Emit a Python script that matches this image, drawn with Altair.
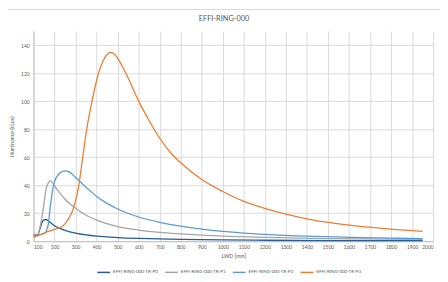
import altair as alt
import pandas as pd

names = ["EFFI-RING-000-TR-P0", "EFFI-RING-000-TR-P1", "EFFI-RING-000-TR-P2", "EFFI-RING-000-TR-P3"]
colors = ["#255E91", "#A5A5A5", "#5B9BD5", "#ED7D31"]

x0 = [100, 110, 120, 128, 135, 142, 150, 158, 170, 185, 200, 225, 250, 300, 350, 400, 500, 600, 700, 800, 1000, 1200, 1500, 1950]
y0 = [4.5, 4.0, 4.5, 7.5, 11.0, 14.0, 15.3, 15.5, 14.6, 12.8, 11.0, 9.2, 7.8, 5.8, 4.5, 3.6, 2.6, 2.0, 1.6, 1.3, 0.9, 0.7, 0.5, 0.35]

x1 = [100, 110, 120, 125, 130, 140, 150, 160, 170, 180, 190, 200, 225, 250, 300, 350, 400, 500, 600, 700, 800, 900, 1000, 1200, 1500, 1950]
y1 = [5.0, 4.8, 5.0, 6.5, 9.5, 17.0, 27.0, 37.5, 41.5, 43.0, 42.0, 39.5, 34.5, 30.0, 23.5, 18.5, 15.0, 10.5, 8.0, 6.3, 5.2, 4.3, 3.6, 2.7, 1.9, 1.3]

x2 = [100, 125, 150, 160, 170, 180, 190, 200, 215, 235, 252, 265, 280, 300, 350, 400, 450, 500, 600, 700, 800, 900, 1000, 1100, 1200, 1400, 1600, 1800, 1950]
y2 = [3.8, 4.5, 5.5, 7.0, 12.0, 25.0, 36.0, 42.5, 47.0, 49.6, 50.2, 49.8, 48.3, 45.5, 38.5, 32.0, 27.0, 23.0, 17.3, 13.5, 10.7, 8.6, 7.0, 5.8, 4.9, 3.6, 2.8, 2.2, 1.9]

x3 = [100, 125, 150, 175, 200, 225, 240, 255, 270, 285, 300, 315, 333, 353, 370, 390, 408, 430, 450, 468, 485, 500, 525, 550, 575, 600, 650, 700, 750, 800, 900, 1000, 1100, 1200, 1300, 1400, 1500, 1600, 1700, 1800, 1900, 1950]
y3 = [2.8, 4.2, 5.8, 7.2, 8.5, 9.6, 11.0, 13.5, 17.0, 21.5, 29.0, 39.5, 59.0, 80.0, 94.0, 108.5, 119.5, 128.5, 133.3, 134.8, 133.5, 130.5, 124.0, 116.5, 108.0, 100.0, 86.0, 73.5, 63.5, 56.0, 44.0, 35.5, 28.5, 23.5, 19.3, 16.0, 13.4, 11.5, 10.0, 8.6, 7.6, 7.1]

x_ticks = list(range(100, 2001, 100))
y_ticks = list(range(0, 141, 20))

rows = []
for n, xs, ys in zip(names, [x0, x1, x2, x3], [y0, y1, y2, y3]):
    for a, b in zip(xs, ys):
        rows.append({"series": n, "lwd": a, "lux": b})
df = pd.DataFrame(rows)

FONT = "Lato"
GRAY = "#595959"

border = alt.Chart(pd.DataFrame({"a": [0]})).mark_rect(
    fill=None, stroke="#d9d9d9", strokeWidth=1
).encode(x=alt.value(-29), x2=alt.value(430), y=alt.value(-22), y2=alt.value(270))

title = alt.Chart(pd.DataFrame({"t": ["EFFI-RING-000"]})).mark_text(
    font=FONT, fontSize=7.5, color=GRAY, align="center", baseline="middle"
).encode(text="t:N", x=alt.value(194), y=alt.value(-12))

lines = alt.Chart(df).mark_line(interpolate="monotone", strokeWidth=1.3).encode(
    x=alt.X("lwd:Q", scale=alt.Scale(domain=[100, 2000], nice=False, zero=False),
            axis=alt.Axis(values=x_ticks, format="d", title="LWD [mm]", grid=True, ticks=False,
                          labelPadding=3.5, titlePadding=4)),
    y=alt.Y("lux:Q", scale=alt.Scale(domain=[0, 150], nice=False),
            axis=alt.Axis(values=y_ticks, format="d", title="Illuminance (kLux)", grid=True, ticks=False,
                          labelPadding=4.5, titlePadding=6)),
    color=alt.Color("series:N", scale=alt.Scale(domain=names, range=colors),
                    legend=alt.Legend(orient="none", legendX=64, legendY=238, direction="horizontal",
                                      columns=4, title=None, symbolType="stroke",
                                      symbolSize=169, symbolStrokeWidth=1.5, labelFontSize=4.6,
                                      labelFont=FONT, labelColor=GRAY, labelOffset=2,
                                      columnPadding=4, padding=0)),
    detail="series:N",
)

chart = alt.layer(border, title, lines).properties(
    width=407, height=214,
    autosize=alt.AutoSizeParams(type="none"),
    padding={"left": 26, "top": 21, "right": 7, "bottom": 39},
).configure(background="white").configure_axis(
    gridColor="#d9d9d9", gridWidth=1, domainColor="#bfbfbf", domainWidth=1,
    labelFont=FONT, labelFontSize=5, labelColor=GRAY,
    titleFont=FONT, titleFontSize=5.3, titleColor=GRAY, titleFontWeight="normal",
).configure_view(stroke=None)

chart.save("out.html", embed_options={"renderer": "svg", "actions": False})
